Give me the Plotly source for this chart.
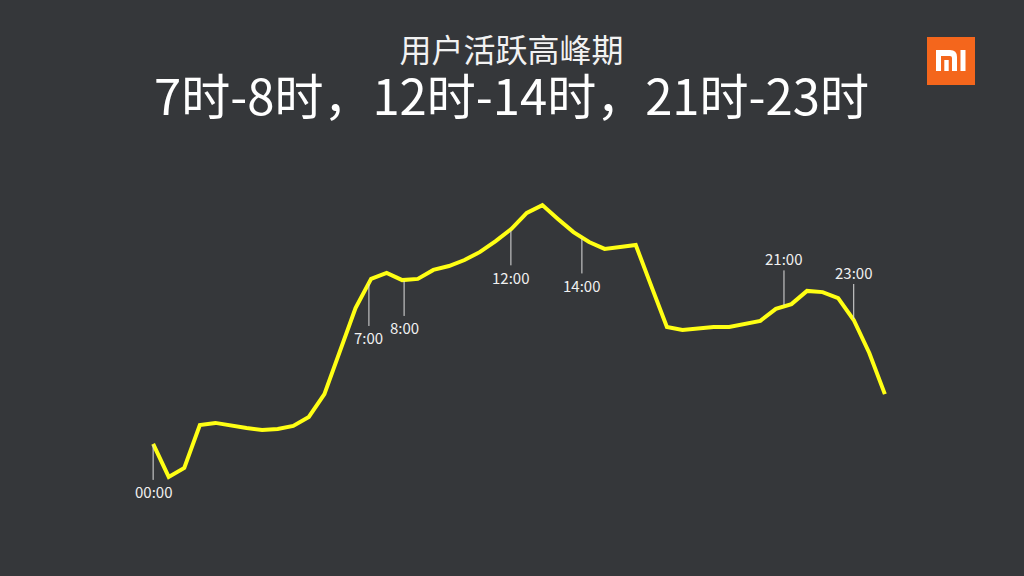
import numpy as np
import plotly.graph_objects as go

# ---- data ----
hours = [i * 0.5 for i in range(48)]  # 00:00 .. 23:30, half-hour steps
activity = [18.7, 7.7, 10.7, 25.0, 25.7, 24.7, 24.0, 23.3, 23.7, 24.7,
            27.7, 35.3, 49.7, 64.0, 73.7, 75.7, 73.3, 73.7, 76.7, 78.0,
            80.0, 82.7, 86.3, 90.3, 95.7, 98.3, 93.7, 89.3, 86.0, 83.7,
            84.3, 85.0, 71.3, 57.7, 56.7, 57.3, 57.7, 57.7, 58.7, 59.7,
            63.7, 65.3, 69.7, 69.3, 67.3, 60.0, 49.0, 35.3]

mark_labels = ["00:00", "7:00", "8:00", "12:00", "14:00", "21:00", "23:00"]
mark_pos = [0.0, 6.93, 8.06, 11.49, 13.77, 20.26, 22.5]
mark_side = ["below", "below", "below", "below", "below", "above", "above"]

title_1 = "用户活跃高峰期"
title_2 = "7时-8时，12时-14时，21时-23时"

# ---- layout helpers ----
W, H = 1024, 576
L, R, T, B = 122, 108, 170, 46
PW, PH = W - L - R, H - T - B


def px(x):
    return (x - L) / PW


def py(y):
    return (H - B - y) / PH


BG = "#35373a"
FONT = "Noto Sans CJK SC, Noto Sans, sans-serif"

fig = go.Figure()
fig.add_trace(go.Scatter(
    x=hours, y=activity, mode="lines",
    line=dict(color="#ffff14", width=4),
    hoverinfo="skip",
))

annotations = []
mark_y = np.interp(mark_pos, hours, activity)
for lab, xp, yv, side in zip(mark_labels, mark_pos, mark_y, mark_side):
    ay = 48 if side == "below" else -48
    if lab == "7:00":
        ay = 55
    annotations.append(dict(
        x=xp, y=float(yv), xref="x", yref="y", text=lab,
        showarrow=True, arrowhead=0, arrowwidth=1, arrowcolor="#dedede",
        ax=0, ay=ay, standoff=1, startstandoff=0,
        font=dict(family=FONT, size=15, color="#f0f0f0"),
    ))

title_text = (f"<span style='font-size:32px;color:#f2f2f2'>{title_1}</span>"
              f"<br><span style='font-size:49px'>{title_2}</span>")
annotations.append(dict(
    x=px(511), y=py(77), xref="paper", yref="paper", text=title_text,
    showarrow=False, xanchor="center", yanchor="middle", align="center",
    font=dict(family=FONT, size=41, color="#ffffff"),
))

# ---- Mi logo ----
shapes = [dict(type="rect", xref="paper", yref="paper",
               x0=px(927), x1=px(975), y0=py(85), y1=py(37),
               fillcolor="#f4661c", line=dict(width=0), layer="above")]


def pt(x, y):
    return f"{px(x):.5f},{py(y):.5f}"


m_path = ("M" + pt(936, 71) + " L" + pt(936, 50) + " L" + pt(950, 50) +
          " Q" + pt(957, 50) + " " + pt(957, 57) + " L" + pt(957, 71) +
          " L" + pt(952, 71) + " L" + pt(952, 58) + " Q" + pt(952, 56) + " " +
          pt(950, 56) + " L" + pt(941, 56) + " L" + pt(941, 71) + " Z")
shapes.append(dict(type="path", xref="paper", yref="paper", path=m_path,
                   fillcolor="#ffffff", line=dict(width=0), layer="above"))
shapes.append(dict(type="rect", xref="paper", yref="paper",
                   x0=px(944.3), x1=px(948.7), y0=py(71), y1=py(60),
                   fillcolor="#ffffff", line=dict(width=0), layer="above"))
shapes.append(dict(type="rect", xref="paper", yref="paper",
                   x0=px(960.5), x1=px(965.5), y0=py(71), y1=py(50),
                   fillcolor="#ffffff", line=dict(width=0), layer="above"))

fig.update_layout(
    width=W, height=H,
    margin=dict(l=L, r=R, t=T, b=B, pad=0),
    paper_bgcolor=BG, plot_bgcolor=BG,
    showlegend=False, hovermode=False,
    xaxis=dict(range=[-1, 24.5], visible=False, fixedrange=True),
    yaxis=dict(range=[-10, 110], visible=False, fixedrange=True),
    annotations=annotations, shapes=shapes,
)

fig.write_html(
    "out.html",
    config={"displayModeBar": False},
    post_script="document.body.style.margin='0px';"
                "document.body.style.background='#35373a';"
                "document.body.style.overflow='hidden';",
)
